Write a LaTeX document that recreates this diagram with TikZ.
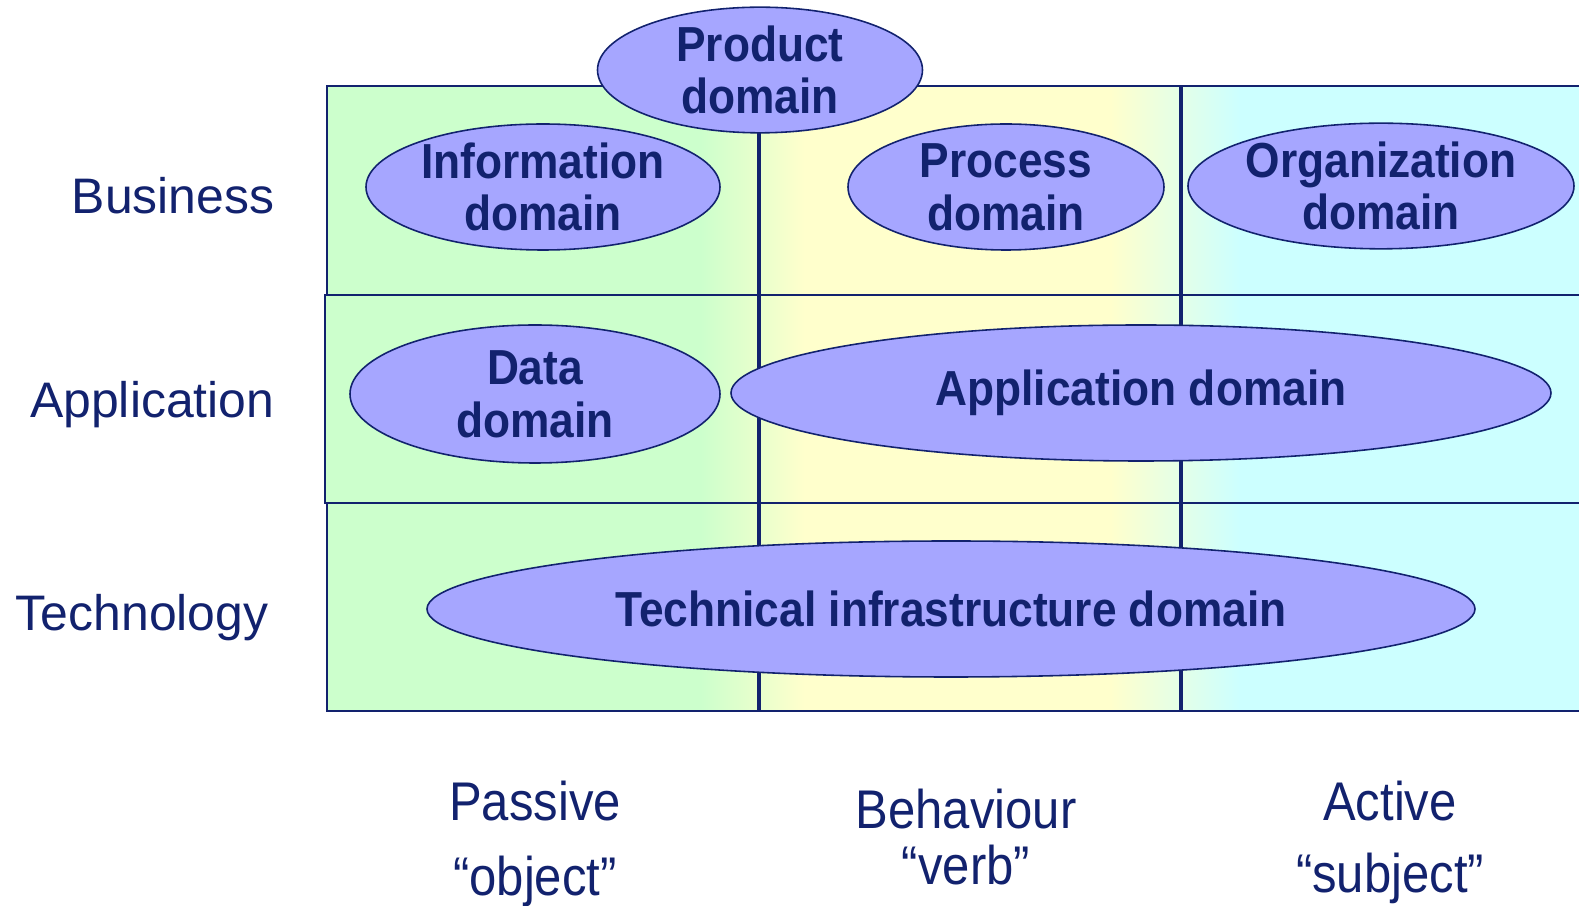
\documentclass[tikz,border=0pt]{standalone}
\usepackage{fontspec}
\setmainfont{Liberation Sans}
\newfontfamily\domainfont[FakeStretch=0.9]{Liberation Sans}
\newfontfamily\axisfont[FakeStretch=0.9]{Liberation Sans}
\usetikzlibrary{shapes.geometric}

\definecolor{navy}{RGB}{18,34,110}
\definecolor{passivegreen}{RGB}{204,255,204}
\definecolor{behaveyellow}{RGB}{255,255,204}
\definecolor{activecyan}{RGB}{204,255,255}
\definecolor{domainblue}{RGB}{166,166,255}

\tikzset{
  domainnode/.style={ellipse, draw=navy, line width=0.45pt, fill=domainblue,
    text=navy, inner sep=0pt, align=center,
    font=\domainfont\bfseries\fontsize{14}{15}\selectfont},
  layerlabel/.style={anchor=base east, text=navy, inner sep=0pt,
    font=\fontsize{14.2}{17}\selectfont},
  aspectlabel/.style={anchor=base, text=navy, inner sep=0pt, align=center,
    font=\axisfont\fontsize{15.5}{21.5}\selectfont},
  rowbox/.style={draw=navy, line width=0.6pt},
  colline/.style={draw=navy, line width=0.9pt}
}

\begin{document}
\begin{tikzpicture}[x=0.1mm, y=-0.1mm]
\useasboundingbox (0,0) rectangle (1579,906);
%% background
\fill[passivegreen] (326,86) rectangle (700,711);
\shade[left color=passivegreen, right color=behaveyellow] (700,86) rectangle (805,711);
\fill[behaveyellow] (805,86) rectangle (1110,711);
\shade[left color=behaveyellow, right color=activecyan] (1110,86) rectangle (1240,711);
\fill[activecyan] (1240,86) rectangle (1579,711);
%% grid
\draw[rowbox] (327,86) rectangle (1584,295);
\draw[rowbox] (325,295) rectangle (1584,503);
\draw[rowbox] (327,503) rectangle (1584,711);
\coordinate (p1) at (759,86);
\coordinate (p2) at (759,711);
\coordinate (q1) at (1181,86);
\coordinate (q2) at (1181,711);
\draw[colline] (p1) -- (p2);
\draw[colline] (q1) -- (q2);

%% nodes
\node[domainnode, minimum width=325*0.1mm, minimum height=124*0.1mm] (Prod) at (760,70) {Product\\domain};
\node[domainnode, minimum width=354*0.1mm, minimum height=126*0.1mm] (Info) at (543,187) {Information\\domain};
\node[domainnode, minimum width=316*0.1mm, minimum height=126*0.1mm] (Proc) at (1006,187) {Process\\domain};
\node[domainnode, minimum width=386*0.1mm, minimum height=124*0.1mm] (Org) at (1381,186) {Organization\\domain};
\node[domainnode, minimum width=370*0.1mm, minimum height=138*0.1mm] (Data) at (535,394) {Data\\domain};
\node[domainnode, minimum width=820*0.1mm, minimum height=136*0.1mm] (Appl) at (1141,393) {Application domain};
\node[domainnode, minimum width=1048*0.1mm, minimum height=136*0.1mm] (Infra) at (951,609) {Technical infrastructure domain};

%% labels
\node[layerlabel] (Bus) at (275,214) {Business};
\node[layerlabel] (App) at (275,418) {Application};
\node[layerlabel] (Tech) at (269,631) {Technology};
\node[aspectlabel] (Pas) at (535,896) {Passive\\“object”};
\node[aspectlabel] (Beh) at (966,885) {Behaviour\\[-5.3pt]“verb”};
\node[aspectlabel] (Act) at (1390,893) {Active\\[-1pt]“subject”};
\end{tikzpicture}
\end{document}
